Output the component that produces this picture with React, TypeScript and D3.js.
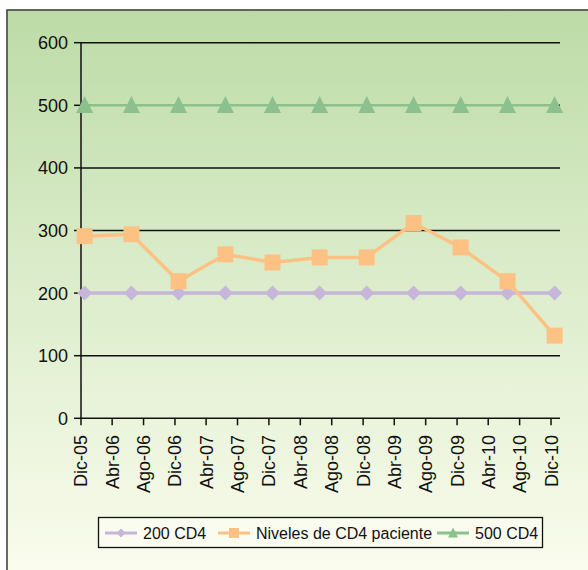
import React from "react";
import * as d3 from "d3";

const dates = ["2005-12-15", "2006-06-15", "2006-12-15", "2007-06-15", "2007-12-15", "2008-06-15", "2008-12-15", "2009-06-15", "2009-12-15", "2010-06-15", "2010-12-15"];
const cd4_200 = [200, 200, 200, 200, 200, 200, 200, 200, 200, 200, 200];
const paciente = [291, 294, 219, 262, 249, 257, 257, 312, 273, 219, 132];
const cd4_500 = [500, 500, 500, 500, 500, 500, 500, 500, 500, 500, 500];
const tickLabels = ["Dic-05", "Abr-06", "Ago-06", "Dic-06", "Abr-07", "Ago-07", "Dic-07", "Abr-08", "Ago-08", "Dic-08", "Abr-09", "Ago-09", "Dic-09", "Abr-10", "Ago-10", "Dic-10"];
const yTicks = [0, 100, 200, 300, 400, 500, 600];
const seriesNames = ["200 CD4", "Niveles de CD4 paciente", "500 CD4"];

const W = 588, H = 570;
const font = "'Liberation Sans', Arial, Helvetica, sans-serif";

export default function App() {
  const parse = d3.timeParse("%Y-%m-%d");
  const x = d3.scaleTime().domain([new Date(2005, 11, 1), new Date(2011, 0, 1)]).range([81, 559]);
  const y = d3.scaleLinear().domain([0, 600]).range([418.3, 42.7]);
  const tickDates = tickLabels.map((_, i) => new Date(2005, 11 + i * 4, 1));
  const pts = (vals: number[]) => vals.map((v, i) => [x(parse(dates[i])!), y(v)] as [number, number]);
  const line = d3.line();
  const colors = ["#c6b6d9", "#fdc283", "#8cc08c"];
  const all = [cd4_200, paciente, cd4_500];

  const diamond = (cx: number, cy: number, r: number) => `M${cx},${cy - r}L${cx + r},${cy}L${cx},${cy + r}L${cx - r},${cy}Z`;
  const tri = (cx: number, cy: number, s: number) => `M${cx},${cy - s * 0.55}L${cx + s / 2},${cy + s * 0.45}L${cx - s / 2},${cy + s * 0.45}Z`;
  const marker = (k: number, cx: number, cy: number, big: boolean, key: any) => {
    if (k === 0) return <path key={key} d={diamond(cx, cy, big ? 7.5 : 4.5)} fill={colors[0]} />;
    if (k === 1) { const s = big ? 16 : 10; return <rect key={key} x={cx - s / 2} y={cy - s / 2} width={s} height={s} fill={colors[1]} />; }
    return <path key={key} d={tri(cx, cy, big ? 17 : 10)} fill={colors[2]} />;
  };

  const legendX = [105, 218, 437];
  const legendY = 533;

  return (
    <svg width={W} height={H} style={{ position: "absolute", left: 0, top: 0 }} fontFamily={font}>
      <defs>
        <linearGradient id="bg" x1="0" y1="0" x2="0" y2="1">
          <stop offset="0" stopColor="#bcdba6" />
          <stop offset="0.45" stopColor="#dbecca" />
          <stop offset="1" stopColor="#fcfdef" />
        </linearGradient>
      </defs>
      <rect x={0} y={0} width={W} height={H} fill="#ffffff" />
      <rect x={7} y={10} width={W + 10} height={H + 10} fill="url(#bg)" stroke="#444" strokeWidth={1.6} />
      {/* gridlines */}
      {yTicks.filter((t) => t > 0).map((t) => (
        <line key={t} x1={81} x2={560} y1={y(t)} y2={y(t)} stroke="#111" strokeWidth={1.5} />
      ))}
      {/* y axis */}
      <line x1={81} x2={81} y1={y(600)} y2={y(0) + 0.7} stroke="#111" strokeWidth={1.5} />
      {yTicks.map((t) => (
        <g key={t}>
          <line x1={74} x2={81} y1={y(t)} y2={y(t)} stroke="#111" strokeWidth={1.5} />
          <text x={68} y={y(t)} dy="0.36em" textAnchor="end" fontSize={18} fill="#111">{t}</text>
        </g>
      ))}
      {/* x axis */}
      <line x1={80.3} x2={560} y1={y(0)} y2={y(0)} stroke="#111" strokeWidth={1.5} />
      {tickDates.map((d, i) => (
        <g key={i}>
          <line x1={x(d)} x2={x(d)} y1={y(0)} y2={y(0) + 7} stroke="#111" strokeWidth={1.5} />
          <text transform={`translate(${x(d)},435) rotate(-90)`} dy="0.36em" textAnchor="end" fontSize={18} fill="#111">{tickLabels[i]}</text>
        </g>
      ))}
      {/* series */}
      {all.map((vals, k) => (
        <g key={k}>
          <path d={line(pts(vals)) || ""} fill="none" stroke={colors[k]} strokeWidth={k === 2 ? 2.5 : 3.5} />
          {pts(vals).map((p, i) => marker(k, p[0], p[1], true, i))}
        </g>
      ))}
      {/* legend */}
      <rect x={98.5} y={517.5} width={444} height={30} fill="#fbfcf0" stroke="#111" strokeWidth={1.3} />
      {seriesNames.map((n, k) => (
        <g key={k}>
          <line x1={legendX[k]} x2={legendX[k] + 32} y1={legendY} y2={legendY} stroke={colors[k]} strokeWidth={3} />
          {marker(k, legendX[k] + 16, legendY, false, "m")}
          <text x={legendX[k] + 38} y={legendY} dy="0.36em" fontSize={16} fill="#111">{n}</text>
        </g>
      ))}
    </svg>
  );
}
